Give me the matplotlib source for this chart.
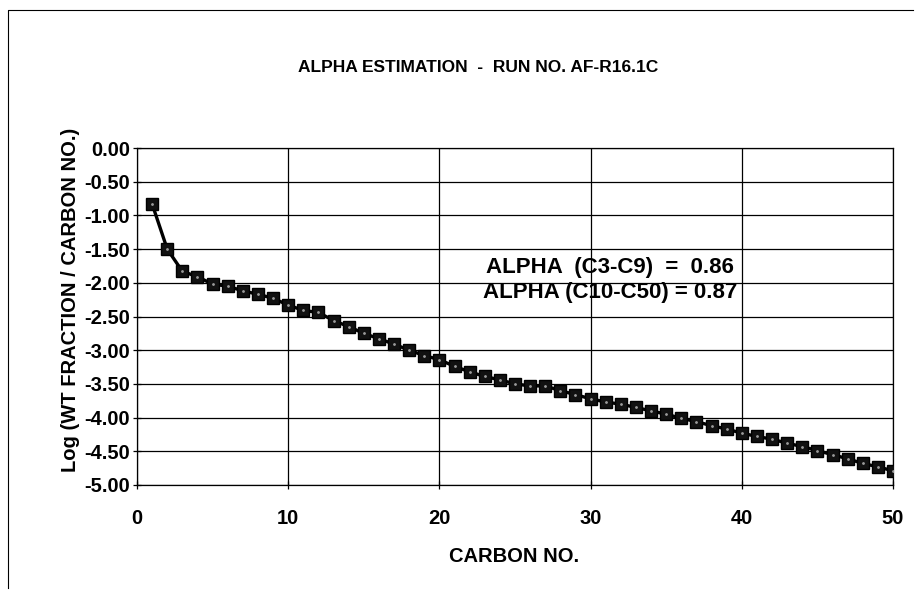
import matplotlib
matplotlib.use("Agg")
import matplotlib.pyplot as plt
from matplotlib.lines import Line2D

plt.rcParams['font.family'] = ['Liberation Sans', 'DejaVu Sans']
plt.rcParams['font.weight'] = 'bold'

# carbon number vs log(wt fraction / carbon no.)
carbon_no = list(range(1, 51))
log_wt = [-0.83, -1.50, -1.83, -1.91, -2.02, -2.05, -2.12, -2.17, -2.23, -2.33,
          -2.41, -2.44, -2.56, -2.65, -2.75, -2.83, -2.91, -3.00, -3.08, -3.14,
          -3.24, -3.32, -3.39, -3.44, -3.50, -3.53, -3.53, -3.60, -3.66, -3.72,
          -3.77, -3.80, -3.85, -3.90, -3.95, -4.01, -4.06, -4.12, -4.17, -4.23,
          -4.28, -4.32, -4.38, -4.43, -4.49, -4.55, -4.61, -4.68, -4.73, -4.79]

x_ticks = [0, 10, 20, 30, 40, 50]
y_ticks = [0.0, -0.5, -1.0, -1.5, -2.0, -2.5, -3.0, -3.5, -4.0, -4.5, -5.0]

title = "ALPHA ESTIMATION  -  RUN NO. AF-R16.1C"
note_lines = ["ALPHA  (C3-C9)  =  0.86", "ALPHA (C10-C50) = 0.87"]

fig = plt.figure(figsize=(9.17, 5.92), dpi=100)
ax = fig.add_axes([137 / 917, 1 - 485 / 592, (893 - 137) / 917, (485 - 148) / 592])

ax.plot(carbon_no, log_wt, color='black', lw=2.4, marker='s', ms=9,
        mfc='#111111', mec='black', zorder=3)
ax.plot(carbon_no, log_wt, ls='none', marker='.', ms=2, color='#9a9a9a', zorder=4)

ax.set_xlim(0, 50)
ax.set_ylim(-5.0, 0.0)
ax.set_xticks(x_ticks)
ax.set_yticks(y_ticks)
ax.set_yticklabels(["%.2f" % v for v in y_ticks])
ax.grid(True, color='black', lw=0.9)
ax.tick_params(direction='inout', length=6, width=0.9, labelsize=14.5)
ax.tick_params(axis='x', pad=14)
ax.tick_params(axis='y', pad=2)
for s in ax.spines.values():
    s.set_color('black')
    s.set_linewidth(0.9)

xl = ax.set_xlabel("CARBON NO.", fontsize=14.5, fontweight='bold')
xl.set_va('center')
ax.xaxis.set_label_coords((514 - 137) / 756, (485 - 557) / 337)
yl = ax.set_ylabel("Log (WT FRACTION / CARBON NO.)", fontsize=14.5, fontweight='bold')
yl.set_va('center')
ax.yaxis.set_label_coords((71 - 137) / 756, (485 - 300) / 337)

fig.text(478 / 917, 1 - 68 / 592, title, ha='center', va='center',
         fontsize=12.5, fontweight='bold')

ax.text(31.3, -1.77, note_lines[0], ha='center', va='center', fontsize=16, fontweight='bold')
ax.text(31.3, -2.14, note_lines[1], ha='center', va='center', fontsize=16, fontweight='bold')

# outer chart border
fig.add_artist(Line2D([8 / 917, 8 / 917, 913 / 917], [4 / 592, 1 - 10 / 592, 1 - 10 / 592],
                      color='black', lw=0.8, transform=fig.transFigure))

fig.savefig("out.png", dpi=100)
